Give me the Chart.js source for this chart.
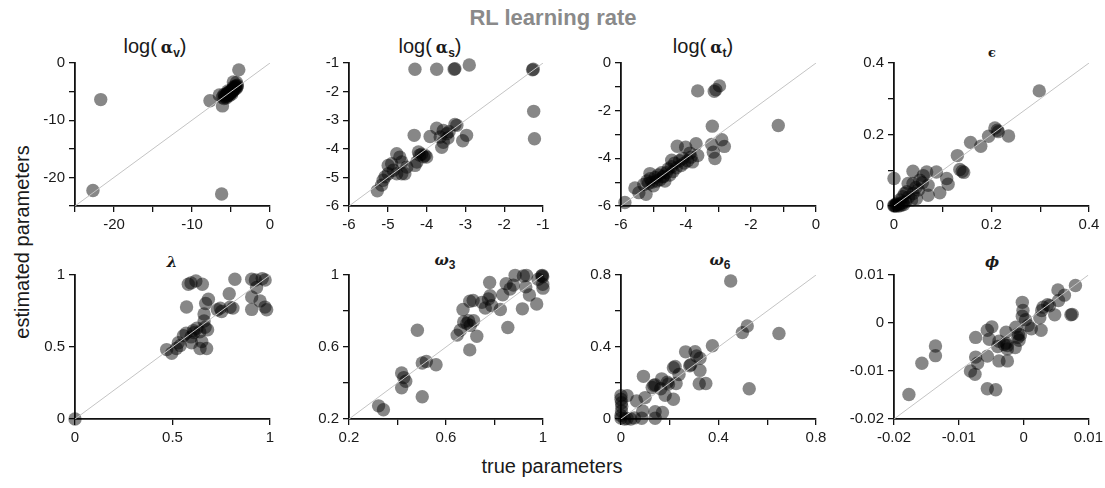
<!DOCTYPE html>
<html>
<head>
<meta charset="utf-8">
<script src="https://cdn.jsdelivr.net/npm/chart.js@4.4.1/dist/chart.umd.min.js"></script>
<style>
  html, body { margin: 0; padding: 0; background: #fff; }
  #fig { position: relative; width: 1105px; height: 488px; overflow: hidden;
         font-family: "Liberation Sans", Arial, sans-serif; color: #1a1a1a; }
  .panel { position: absolute; }
  .lbl { position: absolute; white-space: nowrap; line-height: 1; transform: translateX(-50%); }
  .sup { font-weight: bold; font-size: 22px; color: #8a8a8a; }
  .ttl { font-size: 20px; }
  .ttl .g { font-family: "DejaVu Serif", serif; font-weight: bold; font-size: 16px; }
  .ttl sub { font-size: 12px; font-weight: bold; vertical-align: -4px; }
  .gk { font-family: "DejaVu Serif", serif; font-weight: bold; font-style: italic; font-size: 15px; }
  .gk sub { font-family: "Liberation Sans", Arial, sans-serif; font-style: normal; font-size: 12px; vertical-align: -4px; }
  .axt { font-size: 20px; }
  .ylab { transform: translate(-50%, -50%) rotate(-90deg); }
</style>
</head>
<body>
<div id="fig">
  <div class="lbl sup" style="left:553px; top:7px;">RL learning rate</div>

  <div class="lbl ttl" style="left:155px; top:36px;">log(&#8201;<span class="g">α</span><sub>v</sub>)</div>
  <div class="lbl ttl" style="left:430px; top:36px;">log(&#8201;<span class="g">α</span><sub>s</sub>)</div>
  <div class="lbl ttl" style="left:703px; top:36px;">log(&#8201;<span class="g">α</span><sub>t</sub>)</div>
  <div class="lbl gk" style="left:992px; top:46px; font-size:13px; font-style:normal;">ϵ</div>

  <div class="lbl gk" style="left:172px; top:255px;">λ</div>
  <div class="lbl gk" style="left:445px; top:253px;">ω<sub>3</sub></div>
  <div class="lbl gk" style="left:720px; top:253px;">ω<sub>6</sub></div>
  <div class="lbl gk" style="left:992px; top:255px;">ϕ</div>

  <div class="lbl axt ylab" style="left:22px; top:242px;">estimated parameters</div>
  <div class="lbl axt" style="left:552px; top:456px;">true parameters</div>
</div>

<script>
// ---- recovered parameters: true value (x) vs. estimated value (y) ----

// log(alpha_v)
const alphaVTrue = [-4.0, -21.7, -22.7, -6.2, -7.7, -6.1, -6.5, -4.3, -4.7,
  -6.1, -5.9, -5.8, -5.7, -5.6, -5.5, -5.5, -5.4, -5.3, -5.3, -5.2, -5.1, -5.0, -5.0, -4.9, -4.8,
  -4.8, -4.7, -4.6, -4.6, -4.5, -4.4, -4.4, -4.3, -4.2, -4.2, -5.6, -5.9, -5.2, -4.9, -5.4, -4.7];
const alphaVEst = [-1.2, -6.4, -22.3, -22.9, -6.6, -7.5, -5.6, -3.4, -3.3,
  -6.0, -6.2, -5.7, -5.9, -5.5, -5.8, -5.3, -5.6, -5.2, -5.5, -5.0, -5.3, -4.9, -5.2, -4.8, -5.0,
  -4.6, -4.8, -4.5, -4.3, -4.6, -4.2, -4.0, -4.4, -3.9, -4.1, -6.1, -5.5, -5.7, -5.4, -4.9, -4.2];

// log(alpha_s)
const alphaSTrue = [-4.30, -3.74, -3.29, -3.27, -2.90, -1.27, -1.25, -1.24, -1.22,
  -4.32, -3.91, -3.74, -3.65, -3.57, -3.48, -3.42, -3.27, -3.22, -3.61, -3.57, -3.07, -2.97, -3.45,
  -5.27, -5.16, -5.07, -5.12, -4.99, -4.99, -4.90, -4.86, -4.77, -4.64, -4.56, -4.77, -4.69, -4.64,
  -4.51, -4.30, -4.25, -4.21, -4.13, -4.04, -4.00, -4.08, -4.18];
const alphaSEst = [-1.22, -1.22, -1.22, -1.20, -1.07, -1.24, -1.22, -2.69, -3.65,
  -3.53, -3.57, -3.28, -3.59, -3.36, -3.47, -3.40, -3.15, -3.18, -3.95, -3.77, -3.72, -3.53, -3.62,
  -5.47, -5.27, -4.98, -5.10, -4.87, -4.58, -4.52, -4.75, -4.87, -4.87, -4.87, -4.17, -4.29, -4.46,
  -4.64, -4.58, -4.46, -4.11, -4.19, -4.23, -4.29, -4.28, -4.22];

// log(alpha_t)
const alphaTTrue = [-5.88, -3.64, -3.13, -3.08, -2.97, -1.16, -3.19, -3.69, -3.64, -3.21, -3.16, -3.11,
  -2.90, -2.82, -4.27, -4.01, -3.88,
  -5.57, -5.45, -5.23, -5.30, -5.20, -5.15, -5.10, -5.05, -5.00, -4.95, -4.90, -4.85, -4.80, -4.75,
  -4.70, -4.65, -4.60, -4.55, -4.50, -4.45, -4.40, -4.35, -4.30, -4.20, -4.15, -4.10, -4.05, -3.95,
  -3.85, -3.80, -4.71, -4.44, -5.11];
const alphaTEst = [-5.85, -1.17, -1.19, -1.12, -0.96, -2.62, -2.65, -3.39, -3.88, -3.42, -3.74, -4.01,
  -3.22, -3.50, -3.49, -3.53, -3.78,
  -5.24, -5.44, -5.51, -5.10, -4.95, -5.05, -4.85, -5.00, -5.15, -4.80, -4.95, -4.70, -4.90, -4.60,
  -4.75, -4.95, -4.60, -4.45, -4.70, -4.35, -4.55, -4.20, -4.40, -4.10, -4.30, -4.00, -4.20, -4.10,
  -3.95, -4.15, -4.78, -4.08, -4.64];

// epsilon
const epsTrue = [0.298, 0.207, 0.212, 0.214, 0.194, 0.235, 0.178, 0.157, 0.130, 0.135, 0.143, 0.140,
  0.108, 0.111, 0.094, 0.087, 0.0, 0.039, 0.067, 0.070, 0.053, 0.029, 0.039, 0.022, 0.039, 0.070,
  0.046, 0.036, 0.012, 0.006, 0.060, 0.050, 0.045, 0.058, 0.030, 0.018, 0.026,
  0.0, 0.0, 0.002, 0.004, 0.008, 0.010, 0.012, 0.015, 0.018, 0.020, 0.024, 0.005];
const epsEst = [0.322, 0.218, 0.212, 0.208, 0.195, 0.196, 0.167, 0.178, 0.141, 0.102, 0.094, 0.097,
  0.077, 0.061, 0.037, 0.095, 0.077, 0.097, 0.095, 0.030, 0.072, 0.063, 0.063, 0.035, 0.035, 0.058,
  0.021, 0.017, 0.017, 0.008, 0.085, 0.045, 0.052, 0.065, 0.025, 0.026, 0.040,
  0.0, 0.002, 0.001, 0.0, 0.003, 0.0, 0.006, 0.002, 0.010, 0.004, 0.012, 0.004];

// lambda
const lambdaTrue = [0, 0.470, 0.496, 0.520, 0.530, 0.556, 0.570, 0.595, 0.607, 0.625, 0.640, 0.650,
  0.641, 0.675, 0.598, 0.667, 0.662, 0.662, 0.670, 0.684, 0.572, 0.581, 0.595, 0.620, 0.653, 0.730,
  0.752, 0.745, 0.795, 0.810, 0.791, 0.820, 0.906, 0.925, 0.960, 0.975, 0.906, 0.906, 0.949, 0.974,
  0.983, 0.931, 0.680, 0.610, 0.540];
const lambdaEst = [0, 0.482, 0.457, 0.490, 0.530, 0.579, 0.595, 0.570, 0.614, 0.630, 0.605, 0.538,
  0.490, 0.490, 0.530, 0.637, 0.681, 0.729, 0.802, 0.832, 0.778, 0.936, 0.945, 0.959, 0.936, 0.759,
  0.747, 0.770, 0.776, 0.770, 0.870, 0.970, 0.970, 0.965, 0.975, 0.965, 0.848, 0.761, 0.820, 0.777,
  0.759, 0.913, 0.620, 0.600, 0.510];

// omega_3
const omega3True = [0.322, 0.342, 0.417, 0.426, 0.434, 0.417, 0.482, 0.502, 0.519, 0.502, 0.559, 0.646,
  0.659, 0.670, 0.673, 0.686, 0.693, 0.700, 0.714, 0.698, 0.727, 0.698, 0.712, 0.748, 0.762, 0.775,
  0.782, 0.780, 0.788, 0.824, 0.834, 0.848, 0.855, 0.864, 0.878, 0.885, 0.919, 0.932, 0.915, 0.929,
  0.944, 0.974, 0.980, 0.995, 0.997, 0.999, 0.999, 1.000];
const omega3Est = [0.273, 0.251, 0.456, 0.430, 0.410, 0.374, 0.693, 0.511, 0.520, 0.324, 0.501, 0.666,
  0.693, 0.808, 0.739, 0.731, 0.746, 0.720, 0.746, 0.584, 0.660, 0.854, 0.858, 0.848, 0.817, 0.867,
  0.885, 0.958, 0.830, 0.808, 0.890, 0.952, 0.708, 0.922, 0.944, 0.998, 0.995, 0.998, 0.812, 0.934,
  0.889, 0.839, 0.976, 0.995, 0.998, 0.990, 0.949, 0.927];

// omega_6
const omega6True = [0.450, 0.518, 0.498, 0.648, 0.526, 0.375, 0.265, 0.304, 0.310, 0.324, 0.286, 0.282,
  0.324, 0.321, 0.348, 0.222, 0.215, 0.238, 0.226, 0.190, 0.195, 0.167, 0.135, 0.128, 0.140, 0.163,
  0.181, 0.215, 0.092, 0.099, 0.064, 0.089, 0.140, 0.170, 0.140, 0.085, 0.055, 0.025, 0.0, 0.0,
  0.002, 0.003, 0.002, 0.0, 0.015, 0.025, 0.040, 0.0];
const omega6Est = [0.767, 0.517, 0.480, 0.475, 0.168, 0.407, 0.373, 0.374, 0.350, 0.338, 0.301, 0.296,
  0.270, 0.196, 0.197, 0.292, 0.285, 0.247, 0.197, 0.204, 0.195, 0.223, 0.187, 0.175, 0.190, 0.168,
  0.132, 0.110, 0.237, 0.119, 0.100, 0.045, 0.040, 0.036, 0.004, 0.004, 0.006, 0.003, 0.130, 0.110,
  0.090, 0.070, 0.045, 0.020, 0.0, 0.130, 0.0, 0.005];

// phi
const phiTrue = [-0.0177, -0.0157, -0.0136, -0.0136, -0.0082, -0.0075, -0.0074, -0.0071, -0.0056, -0.0043,
  -0.0056, -0.0074, -0.0056, -0.0049, -0.0053, -0.0038, -0.0025, -0.0038, -0.0040, -0.0025, -0.0025,
  -0.0027, -0.0027, -0.0013, -0.0009, -0.0008, -0.0007, -0.0005, -0.0012, -0.0002, -0.0001, -0.0002,
  0.0003, 0.0007, 0.0012, 0.0027, 0.0025, 0.0028, 0.0030, 0.0037, 0.0040, 0.0048, 0.0053, 0.0054,
  0.0063, 0.0073, 0.0075, 0.0080, -0.0030];
const phiEst = [-0.0149, -0.0084, -0.0048, -0.0068, -0.0100, -0.0107, -0.0071, -0.0084, -0.0137, -0.0139,
  -0.0069, -0.0030, -0.0015, -0.0008, -0.0034, -0.0079, -0.0079, -0.0038, -0.0049, -0.0054, -0.0047,
  -0.0042, -0.0019, -0.0051, -0.0030, -0.0023, -0.0036, -0.0025, -0.0009, 0.0043, 0.0026, 0.0014,
  0.0007, -0.0005, -0.0012, -0.0015, 0.0011, 0.0026, 0.0033, 0.0038, 0.0036, 0.0017, 0.0069, 0.0047,
  0.0058, 0.0017, 0.0018, 0.0078, -0.0045];

// ---- axis limits, tick positions and tick labels ----
const limAlphaV = [-25, 0];
const ticksAlphaV = [-25, -20, -15, -10, -5, 0];
const labelsAlphaV = ['', '-20', '', '-10', '', '0'];

const limAlphaS = [-6, -1];
const ticksAlphaS = [-6, -5, -4, -3, -2, -1];
const labelsAlphaS = ['-6', '-5', '-4', '-3', '-2', '-1'];

const limAlphaT = [-6, 0];
const ticksAlphaT = [-6, -5, -4, -3, -2, -1, 0];
const labelsAlphaT = ['-6', '', '-4', '', '-2', '', '0'];

const limEps = [0, 0.4];
const ticksEps = [0, 0.1, 0.2, 0.3, 0.4];
const labelsEps = ['0', '', '0.2', '', '0.4'];

const limLambda = [0, 1];
const ticksLambda = [0, 0.5, 1];
const labelsLambda = ['0', '0.5', '1'];

const limOmega3 = [0.2, 1];
const ticksOmega3 = [0.2, 0.4, 0.6, 0.8, 1];
const labelsOmega3 = ['0.2', '', '0.6', '', '1'];

const limOmega6 = [0, 0.8];
const ticksOmega6 = [0, 0.2, 0.4, 0.6, 0.8];
const labelsOmega6 = ['0', '', '0.4', '', '0.8'];

const limPhi = [-0.02, 0.01];
const ticksPhi = [-0.02, -0.01, 0, 0.01];
const labelsPhi = ['-0.02', '-0.01', '0', '0.01'];

// ---- drawing ----
const FONT = '"Liberation Sans", Arial, sans-serif';
const PAD_T = 12, PAD_R = 18, AX_W = 54, AX_H = 34;
const COLS = [[75, 270], [349, 543], [621, 816], [894, 1089]];
const ROWS = [[62, 206], [274, 419]];

function makeAxis(lim, ticks, labels) {
  return {
    type: 'linear',
    min: lim[0],
    max: lim[1],
    afterBuildTicks: (s) => { s.ticks = ticks.map(v => ({ value: v })); },
    grid: { drawOnChartArea: false, drawTicks: true, tickLength: 6, color: '#111', lineWidth: 1.3 },
    border: { display: true, color: '#111', width: 1.8 },
    ticks: {
      autoSkip: false,
      maxRotation: 0,
      padding: 4,
      color: '#1a1a1a',
      font: { family: FONT, size: 15 },
      callback: (v, i) => labels[i]
    }
  };
}

function makePanel(col, row, lim, ticks, labels, xs, ys) {
  const [l, r] = COLS[col];
  const [t, b] = ROWS[row];
  const w = (r - l) + AX_W + PAD_R;
  const h = (b - t) + PAD_T + AX_H;
  const div = document.createElement('div');
  div.className = 'panel';
  div.style.left = (l - AX_W) + 'px';
  div.style.top = (t - PAD_T) + 'px';
  div.style.width = w + 'px';
  div.style.height = h + 'px';
  const cv = document.createElement('canvas');
  cv.width = w; cv.height = h;
  cv.style.width = w + 'px'; cv.style.height = h + 'px';
  div.appendChild(cv);
  document.getElementById('fig').appendChild(div);

  const pts = xs.map((x, i) => ({ x: x, y: ys[i] }));
  const diag = [{ x: lim[0], y: lim[0] }, { x: lim[1], y: lim[1] }];

  const xAxis = makeAxis(lim, ticks, labels);
  xAxis.afterFit = (s) => { s.height = AX_H; };
  const yAxis = makeAxis(lim, ticks, labels);
  yAxis.afterFit = (s) => { s.width = AX_W; };

  new Chart(cv, {
    type: 'scatter',
    data: {
      datasets: [
        {
          data: diag,
          showLine: true,
          borderColor: '#c4c4c4',
          borderWidth: 1,
          pointRadius: 0,
          order: 0
        },
        {
          data: pts,
          backgroundColor: 'rgba(0,0,0,0.47)',
          borderWidth: 0,
          pointRadius: 6.7,
          pointHoverRadius: 6.7,
          clip: false,
          order: 1
        }
      ]
    },
    options: {
      responsive: false,
      devicePixelRatio: 1,
      animation: false,
      events: [],
      layout: { padding: { top: PAD_T, right: PAD_R, left: 0, bottom: 0 } },
      scales: { x: xAxis, y: yAxis },
      plugins: {
        legend: { display: false },
        tooltip: { enabled: false }
      }
    }
  });
}

makePanel(0, 0, limAlphaV, ticksAlphaV, labelsAlphaV, alphaVTrue, alphaVEst);
makePanel(1, 0, limAlphaS, ticksAlphaS, labelsAlphaS, alphaSTrue, alphaSEst);
makePanel(2, 0, limAlphaT, ticksAlphaT, labelsAlphaT, alphaTTrue, alphaTEst);
makePanel(3, 0, limEps, ticksEps, labelsEps, epsTrue, epsEst);
makePanel(0, 1, limLambda, ticksLambda, labelsLambda, lambdaTrue, lambdaEst);
makePanel(1, 1, limOmega3, ticksOmega3, labelsOmega3, omega3True, omega3Est);
makePanel(2, 1, limOmega6, ticksOmega6, labelsOmega6, omega6True, omega6Est);
makePanel(3, 1, limPhi, ticksPhi, labelsPhi, phiTrue, phiEst);
</script>
</body>
</html>
